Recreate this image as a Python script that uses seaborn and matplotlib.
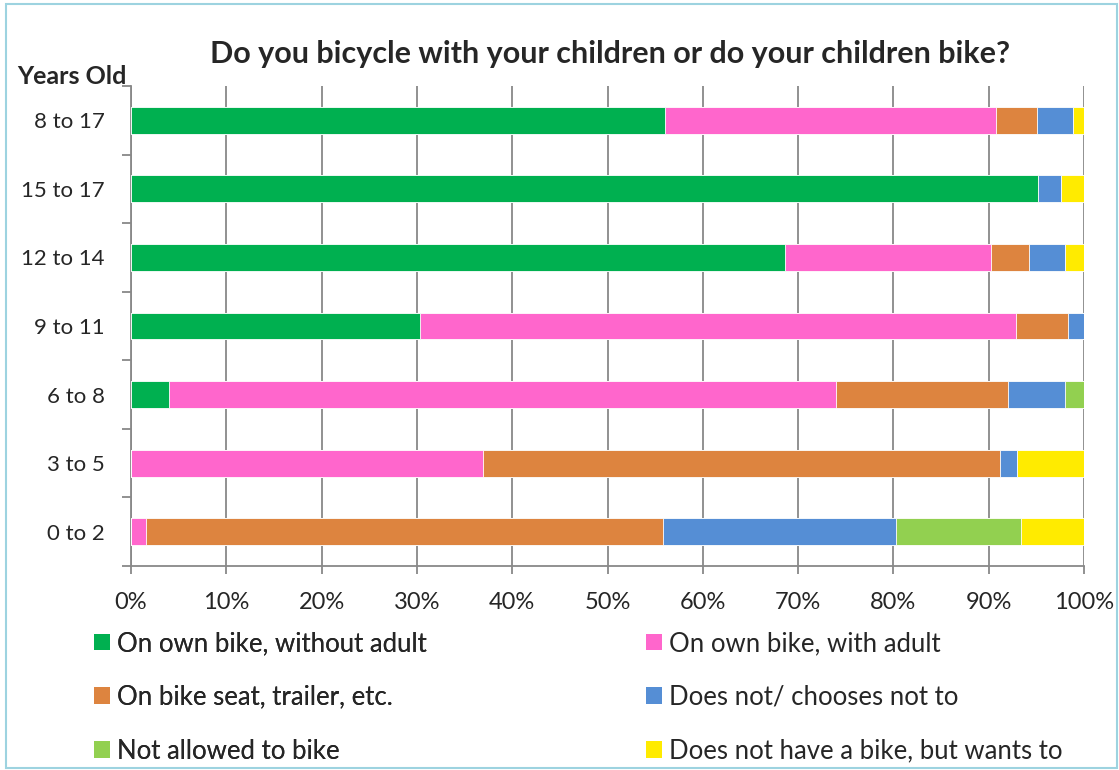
import pandas as pd
import matplotlib.pyplot as plt
import seaborn as sns
from matplotlib.patches import Patch, Rectangle
from matplotlib.ticker import FixedLocator, PercentFormatter

# Chart data (percent of respondents)
age_groups = ["8 to 17", "15 to 17", "12 to 14", "9 to 11", "6 to 8", "3 to 5", "0 to 2"]
series_names = ["On own bike, without adult", "On own bike, with adult",
                "On bike seat, trailer, etc.", "Does not/ chooses not to",
                "Not allowed to bike", "Does not have a bike, but wants to"]
own_no_adult = [56.0, 95.2, 68.6, 30.3, 4.0, 0.0, 0.0]
own_with_adult = [34.8, 0.0, 21.6, 62.6, 70.0, 36.9, 1.6]
bike_seat = [4.3, 0.0, 4.0, 5.4, 18.0, 54.3, 54.2]
chooses_not = [3.7, 2.4, 3.8, 1.7, 6.0, 1.8, 24.5]
not_allowed = [0.0, 0.0, 0.0, 0.0, 2.0, 0.0, 13.1]
no_bike = [1.2, 2.4, 2.0, 0.0, 0.0, 7.0, 6.6]
colors = ["#00B050", "#FF66CC", "#DD843F", "#558ED5", "#92D050", "#FFEB00"]

sns.set_style("white")
plt.rcParams['font.family'] = ['Lato', 'DejaVu Sans']

df = pd.DataFrame({"age": age_groups})
values = [own_no_adult, own_with_adult, bike_seat, chooses_not, not_allowed, no_bike]
running = [0.0] * len(age_groups)
for name, vals in zip(series_names, values):
    running = [r + v for r, v in zip(running, vals)]
    df[name] = running

fig = plt.figure(figsize=(11.19, 7.7), dpi=100)
ax = fig.add_axes([131 / 1119, 1 - 566 / 770, (1084 - 131) / 1119, (566 - 86) / 770])

# stacked bars: draw cumulative totals from the outermost segment inward
for name, col in reversed(list(zip(series_names, colors))):
    sns.barplot(data=df, x=name, y="age", orient="h", color=col, width=0.39,
                edgecolor="white", linewidth=0.6, saturation=1, ax=ax, zorder=3)

ax.set_xlim(0, 100)
ax.set_ylim(6.5, -0.5)
ax.set_xlabel("")
ax.set_ylabel("")
ax.xaxis.set_major_locator(FixedLocator(range(0, 101, 10)))
ax.xaxis.set_major_formatter(PercentFormatter(decimals=0))
ax.grid(axis="x", color="#888888", linewidth=1.3, zorder=0)
ax.set_axisbelow(True)

for s in ["top", "right"]:
    ax.spines[s].set_visible(False)
for s in ["left", "bottom"]:
    ax.spines[s].set_color("#888888")
    ax.spines[s].set_linewidth(1.3)

ax.tick_params(axis="x", which="major", direction="out", length=5.5, width=1.3,
               color="#888888", labelsize=17, pad=13, bottom=True)
ax.tick_params(axis="y", which="major", length=0, labelsize=16, pad=19)
ax.yaxis.set_minor_locator(FixedLocator([i - 0.5 for i in range(8)]))
ax.tick_params(axis="y", which="minor", direction="out", length=6.5, width=1.3,
               color="#888888", left=True)

fig.text(610 / 1119, 1 - 54 / 770, "Do you bicycle with your children or do your children bike?",
         ha="center", va="center", fontsize=22, fontweight="bold")
fig.text(72 / 1119, 1 - 76 / 770, "Years Old", ha="center", va="center",
         fontsize=18, fontweight="bold")

handles = [Patch(facecolor=c, edgecolor="none") for c in colors]
leg_kw = dict(loc="upper left", frameon=False, fontsize=18.5, handlelength=0.62,
              handleheight=0.62, handletextpad=0.28, labelspacing=1.12,
              borderpad=0, borderaxespad=0)
left_leg = fig.legend(handles[0::2], series_names[0::2],
                      bbox_to_anchor=(94 / 1119, 1 - 631 / 770), **leg_kw)
fig.add_artist(left_leg)
fig.legend(handles[1::2], series_names[1::2],
           bbox_to_anchor=(646 / 1119, 1 - 631 / 770), **leg_kw)

# chart border
fig.add_artist(Rectangle((6 / 1119, 2 / 770), 1111 / 1119, 764 / 770,
                         transform=fig.transFigure, fill=False,
                         edgecolor="#9DD3E0", linewidth=1.5))

fig.savefig("out.png", dpi=100)
